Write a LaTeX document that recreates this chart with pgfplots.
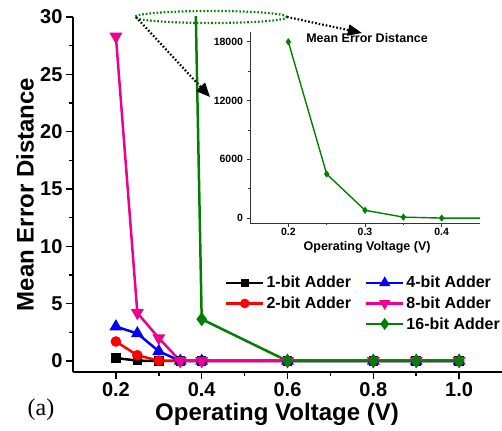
\documentclass[border=0pt]{standalone}
\usepackage{fontspec}
\setmainfont{Liberation Sans}
\newfontfamily\seriffont{Liberation Serif}
\usepackage{pgfplots}
\pgfplotsset{compat=1.18}
\usetikzlibrary{arrows.meta}

\definecolor{dgreen}{RGB}{0,128,0}

\pgfplotsset{
  adderline/.style={line width=2.5bp},
}

\begin{document}
\begin{tikzpicture}[x=1bp,y=1bp]
\useasboundingbox (0,0) rectangle (502,430);

% ---------------- main plot ----------------
\begin{axis}[
  at={(73bp,58bp)}, anchor=south west,
  scale only axis, width=429bp, height=355bp,
  xmin=0.1, xmax=1.1, ymin=-0.96, ymax=30,
  axis x line=bottom, axis y line=left,
  axis line style={-, line width=1.8bp},
  xtick={0.2,0.4,0.6,0.8,1.0}, minor x tick num=1,
  ytick={0,5,10,15,20,25,30}, minor y tick num=1,
  tick align=outside,
  major tick length=7bp, minor tick length=4bp,
  every tick/.style={black, line width=1.5bp},
  /pgf/number format/assume math mode=true,
  xticklabel={\pgfmathprintnumber[fixed, fixed zerofill, precision=1]{\tick}},
  yticklabel={\pgfmathprintnumber[fixed, precision=0]{\tick}},
  tick label style={font=\fontsize{20bp}{20bp}\selectfont\bfseries},
  xlabel={Operating Voltage (V)},
  ylabel={Mean Error Distance},
  label style={font=\fontsize{24bp}{24bp}\selectfont\bfseries},
  xlabel style={at={(axis description cs:0.4755,0)}, anchor=center, yshift=-42bp},
  ylabel style={at={(axis description cs:-0.112,0.5)}, anchor=center},
  clip=true,
  legend columns=2,
  legend cell align=left,
  legend style={at={(axis cs:0.447,7.75)}, anchor=north west, draw=none, fill=none,
    font=\fontsize{16bp}{19bp}\selectfont\bfseries,
    /tikz/every even column/.append style={column sep=12bp},
    row sep=3.5bp},
  legend image code/.code={%
    \draw[mark repeat=2, mark phase=2] plot coordinates {(0bp,0bp) (18.5bp,0bp) (37bp,0bp)};},
]

% 1-bit adder
\addplot[forget plot, adderline, black, mark=square*, mark size=3.5bp] coordinates {
  (0.2,0.26) (0.25,0.03) (0.3,0) (0.35,0) (0.4,0) (0.6,0) (0.8,0) (0.9,0) (1.0,0)};
% 2-bit adder
\addplot[forget plot, adderline, red, mark=*, mark size=4bp] coordinates {
  (0.2,1.7) (0.25,0.5) (0.3,0.03) (0.35,0) (0.4,0) (0.6,0) (0.8,0) (0.9,0) (1.0,0)};
% 4-bit adder
\addplot[forget plot, adderline, blue, mark=triangle*, mark size=5bp] coordinates {
  (0.2,3.0) (0.25,2.4) (0.3,0.85) (0.35,0) (0.4,0) (0.6,0) (0.8,0) (0.9,0) (1.0,0)};
% 8-bit adder
\addplot[forget plot, adderline, magenta, mark=triangle*, mark size=5bp,
  every mark/.append style={rotate=180}] coordinates {
  (0.2,28.3) (0.25,4.2) (0.3,2.0) (0.35,0) (0.4,0) (0.6,0) (0.8,0) (0.9,0) (1.0,0)};
% 16-bit adder (large values are clamped; they lie far above the visible range)
\addplot[forget plot, adderline, dgreen, mark=diamond*, mark size=5bp,
  restrict y to domain*=-10:200] coordinates {
  (0.2,18000) (0.25,4500) (0.3,800) (0.35,100) (0.4,3.65) (0.6,0) (0.8,0) (0.9,0) (1.0,0)};

% legend entries, ordered in two columns
\addlegendimage{line width=2.5bp, black, mark=square*, mark size=3bp}
\addlegendentry{1-bit Adder}
\addlegendimage{line width=2.5bp, blue, mark=triangle*, mark size=4bp}
\addlegendentry{4-bit Adder}
\addlegendimage{line width=2.5bp, red, mark=*, mark size=3.5bp}
\addlegendentry{2-bit Adder}
\addlegendimage{line width=2.5bp, magenta, mark=triangle*, mark size=4bp, every mark/.append style={rotate=180}}
\addlegendentry{8-bit Adder}
\addlegendimage{empty legend}
\addlegendentry{}
\addlegendimage{line width=2.5bp, dgreen, mark=diamond*, mark size=4bp}
\addlegendentry{16-bit Adder}
\end{axis}

% ---------------- inset: 16-bit adder on full scale ----------------
\begin{axis}[
  at={(250bp,207bp)}, anchor=south west,
  scale only axis, width=230bp, height=191bp,
  xmin=0.15, xmax=0.45, ymin=-500, ymax=19000,
  axis x line=bottom, axis y line=left,
  axis line style={-, line width=0.9bp, black!80},
  xtick={0.2,0.3,0.4}, minor x tick num=1,
  ytick={0,6000,12000,18000}, minor y tick num=1,
  tick align=outside,
  major tick length=3.5bp, minor tick length=2bp,
  every tick/.style={black!80, line width=0.8bp},
  scaled ticks=false,
  /pgf/number format/assume math mode=true,
  /pgf/number format/1000 sep={},
  xticklabel={\pgfmathprintnumber[fixed, fixed zerofill, precision=1]{\tick}},
  tick label style={font=\fontsize{10.5bp}{10.5bp}\selectfont\bfseries},
  xticklabel style={inner sep=1.5bp},
  xlabel={Operating Voltage (V)},
  xlabel style={font=\fontsize{12.5bp}{12.5bp}\selectfont\bfseries,
    at={(axis description cs:0.509,0)}, anchor=center, yshift=-24bp},
  title={Mean Error Distance},
  title style={font=\fontsize{12.5bp}{12.5bp}\selectfont\bfseries,
    at={(axis description cs:0.509,0.937)}, anchor=center},
  clip=true,
]
\addplot[dgreen, line width=1.4bp, mark=diamond*, mark size=2.5bp] coordinates {
  (0.2,18000) (0.25,4500) (0.3,800) (0.35,100) (0.4,3.65) (0.6,0) (0.8,0) (0.9,0) (1.0,0)};
\end{axis}

% ---------------- zoom annotation ----------------
\draw[dgreen, line width=2.2bp, dash pattern=on 1.6bp off 2bp]
  (211,413) ellipse [x radius=76, y radius=6];
\draw[black, line width=2.2bp, dash pattern=on 1.6bp off 2bp,
  -{Triangle[length=14bp, width=12bp]}]
  (136,413) -- (210,333);
\draw[black, line width=2.2bp, dash pattern=on 1.6bp off 2bp,
  -{Triangle[length=14bp, width=11bp]}]
  (287,413) -- (362,397);

% panel tag
\node[font=\seriffont\fontsize{24bp}{24bp}\selectfont] at (41,20) {(a)};
\end{tikzpicture}
\end{document}
